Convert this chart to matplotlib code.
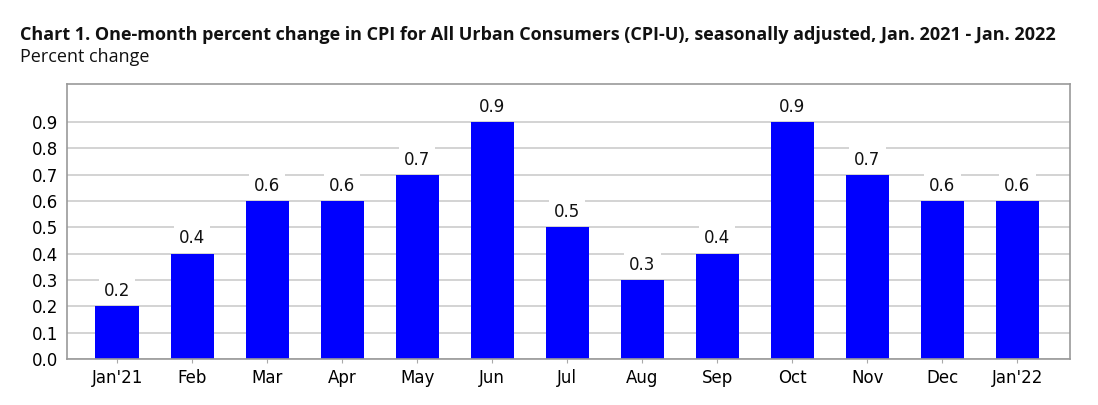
import matplotlib
matplotlib.use("Agg")
import matplotlib.pyplot as plt

months = ["Jan'21", "Feb", "Mar", "Apr", "May", "Jun", "Jul", "Aug", "Sep",
          "Oct", "Nov", "Dec", "Jan'22"]
values = [0.2, 0.4, 0.6, 0.6, 0.7, 0.9, 0.5, 0.3, 0.4, 0.9, 0.7, 0.6, 0.6]
yticks = [0.0, 0.1, 0.2, 0.3, 0.4, 0.5, 0.6, 0.7, 0.8, 0.9]

plt.rcParams['font.family'] = ['DejaVu Sans']

fig = plt.figure(figsize=(10.98, 4.05), dpi=100)
ax = fig.add_axes([66.5 / 1098, 1 - 359 / 405, (1070 - 66.5) / 1098, (359 - 84) / 405])

x = list(range(len(months)))
ax.bar(x, values, width=0.577, color="#0000ff", zorder=2)

for xi, v in zip(x, values):
    ax.text(xi, v + 0.058, f"{v:.1f}", ha="center", va="center", fontsize=12,
            color="#111111", zorder=3,
            bbox=dict(boxstyle="square,pad=0.3", fc="white", ec="none"))

ax.set_xlim(-0.675, len(months) - 1 + 0.70)
ax.set_ylim(0, 1.045)
ax.set_yticks(yticks)
ax.set_yticklabels([f"{t:.1f}" for t in yticks], fontsize=12)
ax.set_xticks(x)
ax.set_xticklabels(months, fontsize=12)
ax.yaxis.grid(True, color="#cccccc", linewidth=1.2, zorder=0)
ax.set_axisbelow(True)
ax.tick_params(axis="y", length=0, pad=6)
ax.tick_params(axis="x", length=3, color="#aaaaaa", pad=4)
for s in ax.spines.values():
    s.set_color("#999999")
    s.set_linewidth(1.2)

fig.text(20 / 1098, 1 - 35 / 405, "Chart 1. One-month percent change in CPI for All Urban Consumers (CPI-U), seasonally adjusted, Jan. 2021 - Jan. 2022",
         fontsize=13, fontweight="bold", family=["Open Sans", "DejaVu Sans"],
         ha="left", va="center", color="#111111")
fig.text(20 / 1098, 1 - 57 / 405, "Percent change", fontsize=13, family=["Open Sans", "DejaVu Sans"],
         ha="left", va="center", color="#111111")

fig.savefig("out.png", dpi=100)
